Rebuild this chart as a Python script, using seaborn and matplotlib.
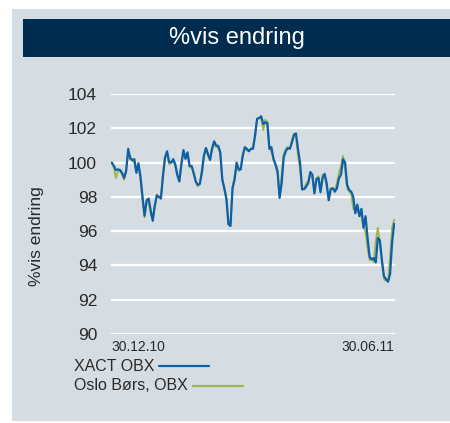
import numpy as np
import pandas as pd
import matplotlib.pyplot as plt
import seaborn as sns
from matplotlib.patches import Rectangle

# values (index = trading day, first = 30.12.10, last = 30.06.11)
xact_obx = [100.0, 99.8, 99.57, 99.6, 99.57, 99.4, 99.1, 99.5, 100.8, 100.23,
            100.15, 100.2, 99.4, 99.96, 99.2, 98.0, 96.9, 97.8, 97.9, 97.2,
            96.6, 97.5, 98.1, 98.0, 97.9, 99.2, 100.3, 100.66, 100.04, 100.0,
            100.2, 99.9, 99.3, 98.9, 99.9, 100.73, 100.23, 100.6, 99.8, 99.8,
            99.4, 98.9, 98.7, 98.75, 99.4, 100.4, 100.85, 100.5, 100.15, 100.8,
            101.24, 101.0, 100.97, 100.6, 99.0, 98.5, 97.9, 96.4, 96.3, 98.5,
            99.0, 100.0, 99.6, 99.6, 100.4, 100.9, 100.8, 100.66, 100.8, 100.8,
            101.55, 102.56, 102.6, 102.7, 102.25, 102.35, 102.3, 100.8, 100.9, 100.2,
            99.9, 99.5, 97.94, 98.8, 100.3, 100.66, 100.85, 100.8, 101.16, 101.6,
            101.7, 100.77, 100.0, 98.45, 98.45, 98.6, 98.8, 99.45, 99.3, 98.2,
            99.03, 99.1, 98.27, 99.1, 99.34, 98.8, 97.8, 98.45, 98.5, 98.3,
            98.5, 99.07, 99.3, 100.2, 100.0, 98.7, 98.4, 98.3, 98.0, 97.05,
            97.55, 96.87, 97.3, 96.2, 96.87, 95.6, 94.5, 94.35, 94.43, 94.17,
            95.6, 95.47, 94.3, 93.37, 93.2, 93.05, 93.5, 95.37, 96.43]

oslo_obx = [100.0, 99.7, 99.1, 99.5, 99.5, 99.3, 99.0, 99.6, 100.6, 100.4,
            100.1, 100.0, 99.5, 99.8, 99.0, 97.8, 96.8, 97.6, 97.8, 97.0,
            96.7, 97.4, 98.0, 98.0, 98.0, 99.4, 100.3, 100.5, 99.9, 100.0,
            100.1, 99.8, 99.2, 98.9, 100.0, 100.6, 100.2, 100.5, 99.7, 99.8,
            99.3, 98.9, 98.6, 98.8, 99.6, 100.4, 100.7, 100.4, 100.2, 100.9,
            101.1, 100.9, 100.9, 100.5, 99.0, 98.4, 97.9, 96.4, 96.4, 98.6,
            99.2, 99.8, 99.5, 99.7, 100.5, 100.8, 100.7, 100.7, 100.8, 100.9,
            101.7, 102.5, 102.6, 102.6, 101.9, 102.5, 102.4, 101.0, 100.6, 100.3,
            99.8, 99.3, 98.1, 99.3, 100.5, 100.8, 100.9, 100.8, 101.3, 101.7,
            101.5, 100.4, 99.6, 98.4, 98.5, 98.8, 98.9, 99.3, 99.1, 98.3,
            99.1, 99.2, 98.5, 99.3, 99.2, 98.6, 97.9, 98.5, 98.5, 98.4,
            98.8, 99.4, 99.8, 100.4, 99.6, 98.5, 98.3, 98.2, 97.3, 97.2,
            97.3, 96.9, 96.9, 96.3, 95.9, 95.0, 94.3, 94.4, 94.2, 95.4,
            96.2, 95.3, 94.2, 93.2, 93.1, 93.1, 94.5, 96.2, 96.67]

x_labels = ["30.12.10", "30.06.11"]
series_names = ["XACT OBX", "Oslo Børs, OBX"]
colors = ["#0f5fa6", "#9fb44a"]
title = "%vis endring"

n = len(xact_obx)
df = pd.DataFrame({
    "dag": list(range(n)) * 2,
    "verdi": xact_obx + oslo_obx[:n],
    "serie": [series_names[0]] * n + [series_names[1]] * n,
})

sns.set_style("white")
plt.rcParams["font.family"] = ["Liberation Sans", "DejaVu Sans"]

fig = plt.figure(figsize=(4.5, 4.23), dpi=100)
fig.patch.set_facecolor("white")
fig.patches.append(Rectangle((12 / 450, 2 / 423), 1, 412 / 423, transform=fig.transFigure,
                             facecolor="#d5dde3", edgecolor="none", zorder=-2))
fig.patches.append(Rectangle((23 / 450, 1 - 57 / 423), 1, 38 / 423, transform=fig.transFigure,
                             facecolor="#002c50", edgecolor="none", zorder=-1))
fig.text(237 / 450, 1 - 38 / 423, title, color="white", fontsize=17,
         ha="center", va="center")

ax = fig.add_axes([111 / 450, 1 - 334 / 423, 284 / 450, 240 / 423])
ax.set_zorder(2)
ax.set_facecolor("none")

sns.lineplot(data=df, x="dag", y="verdi", hue="serie",
             hue_order=[series_names[1], series_names[0]],
             palette=dict(zip(series_names, colors)),
             ax=ax, legend=False)
ax.lines[0].set_linewidth(1.3)
ax.lines[1].set_linewidth(1.6)

ax.set_ylim(90, 104)
ax.set_xlim(-0.4, n - 0.6)
ax.set_yticks(np.arange(90, 105, 2))
ax.yaxis.grid(True, color="white", linewidth=1.6)
ax.set_axisbelow(True)
for s in ax.spines.values():
    s.set_visible(False)
ax.tick_params(axis="both", length=0)
ax.tick_params(axis="y", labelsize=12.5, labelcolor="#2a2a2a", pad=10)
ax.tick_params(axis="x", labelsize=10, labelcolor="#2a2a2a", pad=4)
ax.set_xticks([0, n - 1])
ax.set_xticklabels(x_labels)
ax.get_xticklabels()[0].set_ha("left")
ax.get_xticklabels()[1].set_ha("right")
ax.set_xlabel("")
ax.set_ylabel("")
fig.text(37 / 450, 1 - 236 / 423, title, rotation=90, fontsize=12.5,
         color="#2a2a2a", ha="center", va="center")

# legend: label first, then a short line right after it
renderer = fig.canvas.get_renderer()
for i, (name, col) in enumerate(zip(series_names, colors)):
    y = 1 - (366 + 19.5 * i) / 423
    t = fig.text(74 / 450, y, name, fontsize=11.5, color="#2a2a2a", va="center")
    x0 = t.get_window_extent(renderer).x1 / fig.bbox.width + 5 / 450
    fig.add_artist(plt.Line2D([x0, x0 + 50 / 450], [y, y], color=col,
                              linewidth=1.6, transform=fig.transFigure))

fig.savefig("out.png", dpi=100, facecolor="white")
